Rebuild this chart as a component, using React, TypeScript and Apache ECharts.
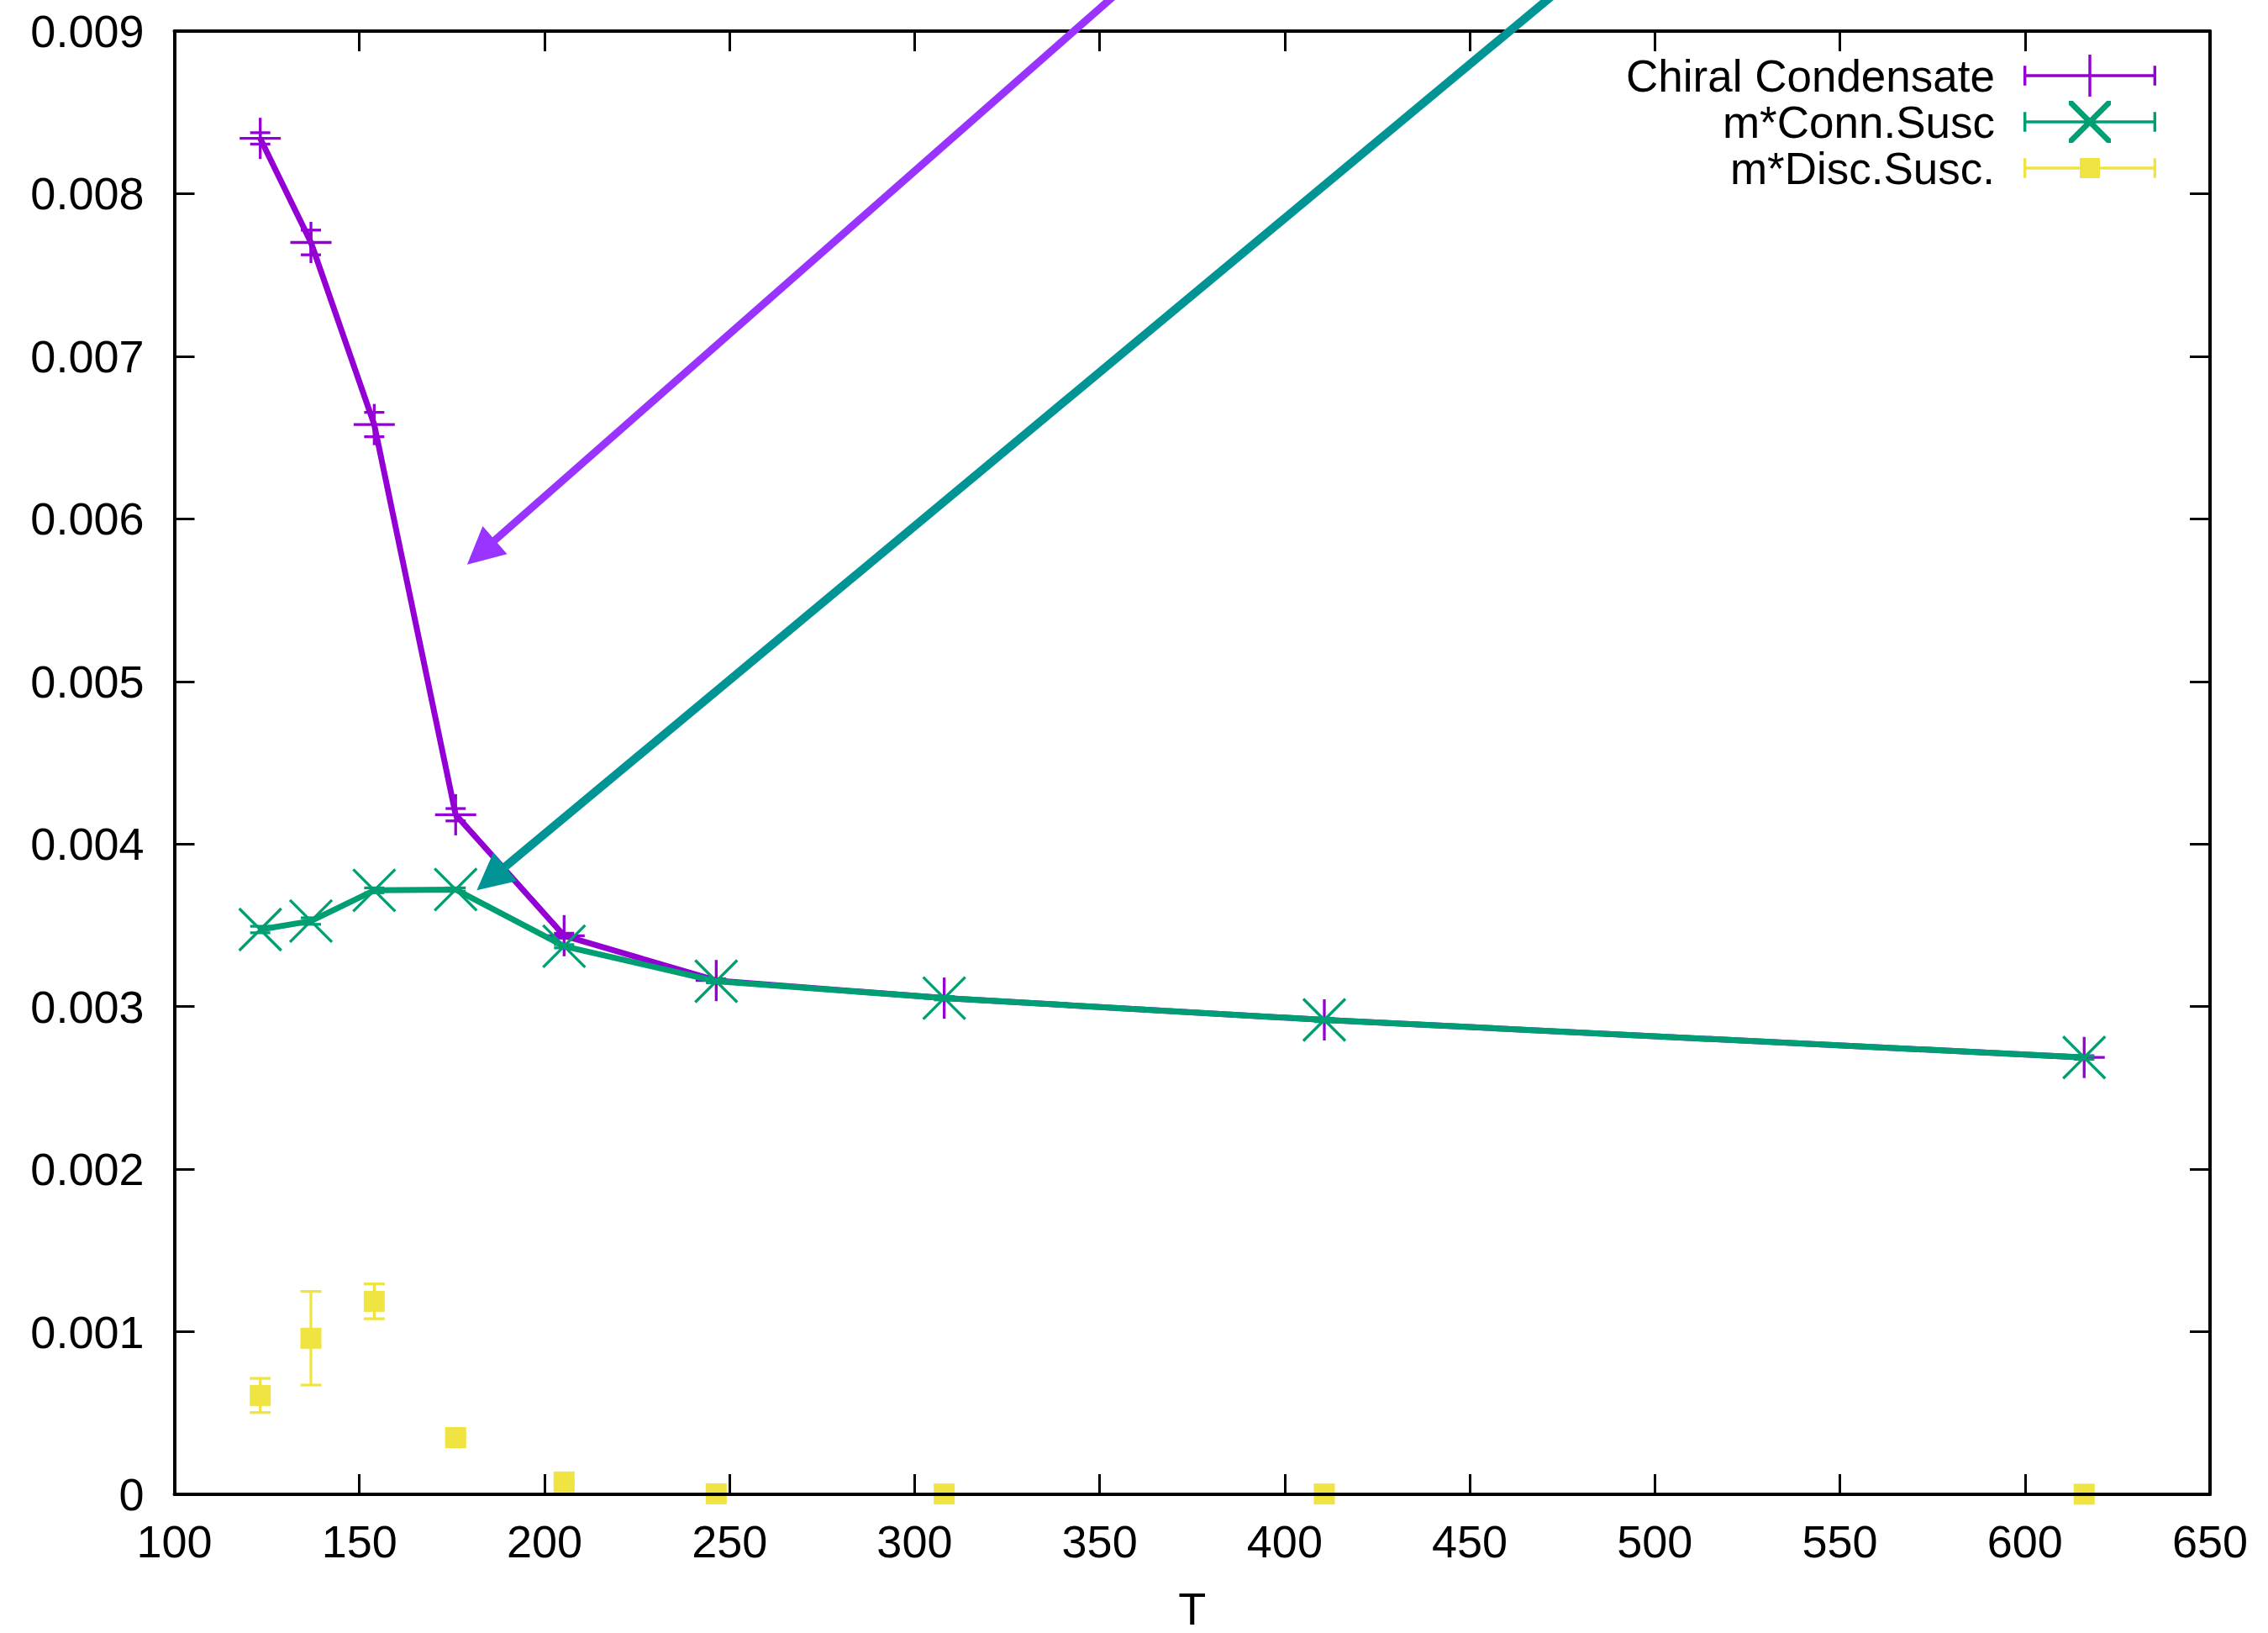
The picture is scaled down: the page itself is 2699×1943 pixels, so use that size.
import React, { useEffect, useRef } from 'react';
import * as echarts from 'echarts';

// ---------- data ----------
const temps = [123.2, 136.9, 154, 176, 205.3, 246.4, 308, 410.7, 616];

const chiralValues = [0.00834, 0.0077, 0.00658, 0.00418, 0.003436, 0.00316, 0.003052, 0.002918, 0.002687];
const chiralErrors = [0.000035, 0.000076, 0.000075, 0.000038, 0.000015, 0.00001, 0.00001, 0.00001, 0.00001];

const connValues = [0.003474, 0.003526, 0.003715, 0.00372, 0.003371, 0.003156, 0.003052, 0.002918, 0.002687];
const connErrors = [0.00002, 0.00002, 0.000015, 0.00001, 0.00001, 0.00001, 0.00001, 0.00001, 0.00001];

const discValues = [0.000608, 0.00096, 0.001187, 0.000349, 0.000076, 0.000003, 0.000002, 0.000002, 0.000001];
const discErrors = [0.000105, 0.000288, 0.000107, 0.00001, 0.000005, 0.000003, 0.000002, 0.000002, 0.000002];

const seriesNames = ['Chiral Condensate', 'm*Conn.Susc', 'm*Disc.Susc.'];

const xMin = 100;
const xMax = 650;
const xStep = 50;
const yMin = 0;
const yMax = 0.009;
const yStep = 0.001;
const xTitle = 'T';

// annotation arrows (data coordinates), start -> tip
const arrowStarts = [[418, 0.0105], [540, 0.0105]];
const arrowEnds = [[179.1, 0.005719], [181.7, 0.003715]];

// ---------- styles ----------
const PURPLE = '#9400d3';
const GREEN = '#009e73';
const YELLOW = '#f0e442';
const arrowColors = ['#9933ff', '#009494'];
const arrowWidths = [9, 10];
const FONT = 'Liberation Sans, Arial, Helvetica, sans-serif';
const FS = 54;
const LEGEND_FS = 53;

const W = 158;
const H = 50;
const T = 3.4;
const specks = `M0,0h0.02v0.02h-0.02Z M${W - 0.02},${H - 0.02}h0.02v0.02h-0.02Z `;
const base = () => {
  const cy = H / 2;
  return (
    specks +
    `M0,${cy - T / 2}h${W}v${T}h-${W}Z ` +
    `M0,${cy - 11.7}h${T}v23.4h-${T}Z ` +
    `M${W - T},${cy - 11.7}h${T}v23.4h-${T}Z `
  );
};
const mid = W / 2;
const plusIcon = 'path://' + base() + `M${mid - T / 2},0h${T}v${H}h-${T}Z`;
const crossIcon =
  'path://' +
  base() +
  `M${mid - 25},0 L${mid - 20.2},0 L${mid + 25},45.2 L${mid + 25},50 L${mid + 20.2},50 L${mid - 25},4.8 Z ` +
  `M${mid + 25},0 L${mid + 25},4.8 L${mid - 20.2},50 L${mid - 25},50 L${mid - 25},45.2 L${mid + 20.2},0 Z`;
const squareIcon = 'path://' + base() + `M${mid - 12},13h24v24h-24Z`;

type Kind = 'plus' | 'cross' | 'square';

const markerRenderer = (kind: Kind, color: string) => (params: any, api: any) => {
  const x = api.value(0);
  const y = api.value(1);
  const e = api.value(2);
  const c = api.coord([x, y]);
  const hi = api.coord([x, y + e]);
  const lo = api.coord([x, y - e]);
  const lw = 3.3;
  const cap = kind === 'square' ? 12.5 : 12;
  const st = { stroke: color, lineWidth: lw, fill: null };
  const children: any[] = [
    { type: 'line', shape: { x1: c[0], y1: hi[1], x2: c[0], y2: lo[1] }, style: st },
    { type: 'line', shape: { x1: c[0] - cap, y1: hi[1], x2: c[0] + cap, y2: hi[1] }, style: st },
    { type: 'line', shape: { x1: c[0] - cap, y1: lo[1], x2: c[0] + cap, y2: lo[1] }, style: st },
  ];
  if (kind === 'plus') {
    children.push({ type: 'line', shape: { x1: c[0] - 24.5, y1: c[1], x2: c[0] + 24.5, y2: c[1] }, style: st });
    children.push({ type: 'line', shape: { x1: c[0], y1: c[1] - 24.5, x2: c[0], y2: c[1] + 24.5 }, style: st });
  } else if (kind === 'cross') {
    children.push({ type: 'line', shape: { x1: c[0] - 25, y1: c[1] - 25, x2: c[0] + 25, y2: c[1] + 25 }, style: st });
    children.push({ type: 'line', shape: { x1: c[0] + 25, y1: c[1] - 25, x2: c[0] - 25, y2: c[1] + 25 }, style: st });
  } else {
    children.push({
      type: 'rect',
      shape: { x: c[0] - 12.5, y: c[1] - 12.5, width: 25, height: 25 },
      style: { fill: color },
    });
  }
  return { type: 'group', children };
};

const arrowRenderer = (params: any, api: any) => {
  const i = params.dataIndex;
  const color = arrowColors[i];
  const p1 = api.coord([api.value(0), api.value(1)]);
  const p2 = api.coord([api.value(2), api.value(3)]);
  const dx = p2[0] - p1[0];
  const dy = p2[1] - p1[1];
  const len = Math.hypot(dx, dy);
  const ux = dx / len;
  const uy = dy / len;
  const nx = -uy;
  const ny = ux;
  const headLen = 44;
  const headHalf = 22;
  const bx = p2[0] - ux * headLen;
  const by = p2[1] - uy * headLen;
  return {
    type: 'group',
    children: [
      {
        type: 'line',
        shape: { x1: p1[0], y1: p1[1], x2: bx + ux * 6, y2: by + uy * 6 },
        style: { stroke: color, lineWidth: arrowWidths[i] },
      },
      {
        type: 'polygon',
        shape: {
          points: [
            [p2[0], p2[1]],
            [bx + nx * headHalf, by + ny * headHalf],
            [bx - nx * headHalf, by - ny * headHalf],
          ],
        },
        style: { fill: color },
      },
    ],
  };
};

const pairs = (vals: number[]) => temps.map((t, i) => [t, vals[i]]);
const triples = (vals: number[], errs: number[]) => temps.map((t, i) => [t, vals[i], errs[i]]);

export default function App() {
  const ref = useRef<HTMLDivElement>(null);

  useEffect(() => {
    document.body.style.margin = '0';
    if (!ref.current) return;
    const chart = echarts.init(ref.current, null, { renderer: 'svg' });

    const axisLineStyle = { color: '#000', width: 4 };
    const tickStyle = { color: '#000', width: 3 };

    const lineSeries = (name: string, vals: number[], color: string, z: number) => ({
      type: 'line',
      name,
      data: pairs(vals),
      symbol: 'none',
      lineStyle: { color, width: 7, join: 'round' },
      itemStyle: { color },
      z,
      silent: true,
      emphasis: { disabled: true },
      clip: false,
    });

    const markerSeries = (name: string, vals: number[], errs: number[], kind: Kind, color: string, z: number) => ({
      type: 'custom',
      name,
      data: triples(vals, errs),
      encode: { x: 0, y: 1 },
      renderItem: markerRenderer(kind, color),
      itemStyle: { color },
      z,
      silent: true,
      clip: false,
    });

    const option: any = {
      animation: false,
      backgroundColor: '#fff',
      textStyle: { fontFamily: FONT },
      grid: {
        left: 207.5,
        right: 69,
        top: 37,
        bottom: 165,
        containLabel: false,
        outerBoundsMode: 'none',
      },
      legend: {
        orient: 'vertical',
        align: 'right',
        right: 133,
        top: 63,
        padding: 0,
        itemWidth: W,
        itemHeight: H,
        itemGap: 1,
        selectedMode: false,
        itemStyle: { borderWidth: 0 },
        textStyle: {
          fontSize: LEGEND_FS,
          fontFamily: FONT,
          color: '#000',
          lineHeight: 54,
          padding: [0, 29, 0, 0],
        },
        data: [
          { name: seriesNames[0], icon: plusIcon },
          { name: seriesNames[1], icon: crossIcon },
          { name: seriesNames[2], icon: squareIcon },
        ],
      },
      xAxis: [
        {
          type: 'value',
          position: 'bottom',
          min: xMin,
          max: xMax,
          interval: xStep,
          z: 10,
          name: xTitle,
          nameLocation: 'middle',
          nameGap: 136,
          nameTextStyle: { fontSize: FS, fontFamily: FONT, color: '#000', verticalAlign: 'middle', lineHeight: 54 },
          axisLine: { show: true, onZero: false, lineStyle: axisLineStyle },
          axisTick: { show: true, inside: true, length: 24, lineStyle: tickStyle },
          axisLabel: { show: true, margin: 29, fontSize: FS, fontFamily: FONT, color: '#000', showMinLabel: true, showMaxLabel: true, hideOverlap: false },
          splitLine: { show: false },
        },
        {
          type: 'value',
          position: 'top',
          min: xMin,
          max: xMax,
          interval: xStep,
          axisLine: { show: true, onZero: false, lineStyle: axisLineStyle },
          axisTick: { show: true, inside: true, length: 24, lineStyle: tickStyle },
          axisLabel: { show: false },
          splitLine: { show: false },
        },
      ],
      yAxis: [
        {
          type: 'value',
          position: 'left',
          min: yMin,
          max: yMax,
          interval: yStep,
          axisLine: { show: true, onZero: false, lineStyle: axisLineStyle },
          axisTick: { show: true, inside: true, length: 24, lineStyle: tickStyle },
          axisLabel: {
            show: true,
            margin: 36,
            fontSize: FS,
            fontFamily: FONT,
            color: '#000',
            showMinLabel: true,
            showMaxLabel: true,
            hideOverlap: false,
            formatter: (v: number) => (Math.abs(v) < 1e-12 ? '0' : v.toFixed(3)),
          },
          splitLine: { show: false },
        },
        {
          type: 'value',
          position: 'right',
          min: yMin,
          max: yMax,
          interval: yStep,
          axisLine: { show: true, onZero: false, lineStyle: axisLineStyle },
          axisTick: { show: true, inside: true, length: 24, lineStyle: tickStyle },
          axisLabel: { show: false },
          splitLine: { show: false },
        },
      ],
      series: [
        lineSeries(seriesNames[0], chiralValues, PURPLE, 2),
        markerSeries(seriesNames[0], chiralValues, chiralErrors, 'plus', PURPLE, 3),
        lineSeries(seriesNames[1], connValues, GREEN, 4),
        markerSeries(seriesNames[1], connValues, connErrors, 'cross', GREEN, 5),
        markerSeries(seriesNames[2], discValues, discErrors, 'square', YELLOW, 6),
        {
          type: 'custom',
          name: 'arrows',
          data: arrowStarts.map((s, i) => [s[0], s[1], arrowEnds[i][0], arrowEnds[i][1]]),
          encode: { x: [0, 2], y: [1, 3] },
          renderItem: arrowRenderer,
          z: 20,
          silent: true,
          clip: false,
        },
      ],
    };

    chart.setOption(option);
    return () => {
      chart.dispose();
    };
  }, []);

  return <div ref={ref} style={{ width: 2699, height: 1943 }} />;
}
